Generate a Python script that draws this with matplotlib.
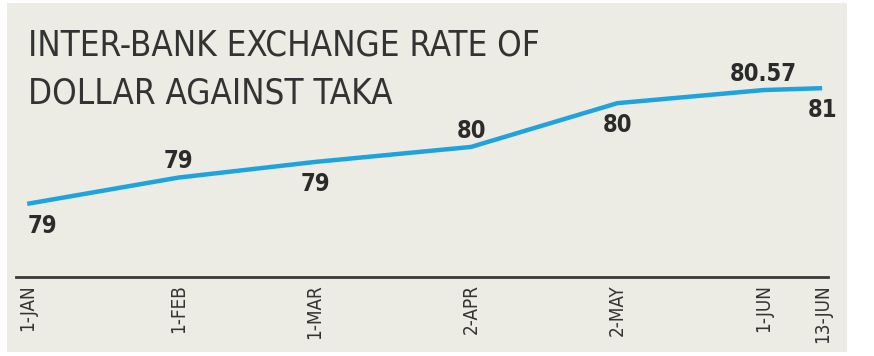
import matplotlib.pyplot as plt
from matplotlib.patches import Rectangle

# days since 1 Jan
days = [0, 31, 59, 91, 121, 151, 163]
rate = [78.75, 79.17, 79.42, 79.66, 80.36, 80.57, 80.60]
tick_labels = ['1-JAN', '1-FEB', '1-MAR', '2-APR', '2-MAY', '1-JUN', '13-JUN']
point_labels = ['79', '79', '79', '80', '80', '80.57', '81']
above = [False, True, False, True, False, True, False]

cond = ['DejaVu Sans']

fig = plt.figure(figsize=(8.74, 3.56), dpi=100)
fig.patch.set_facecolor('white')
fig.patches.append(Rectangle((7 / 874, 4 / 356), 840 / 874, 349 / 356,
                             transform=fig.transFigure, facecolor='#ecece5',
                             edgecolor='none', zorder=-5))

ax = fig.add_axes([16 / 874, 79 / 356, 812 / 874, 272 / 356])
ax.set_facecolor('none')
ax.plot(days, rate, color='#1fa3df', lw=3.2, solid_capstyle='butt', zorder=3)
ax.set_xlim(-2.3, 164.2)
ax.set_ylim(77.58, 81.93)

for d, r, lab, up in zip(days, rate, point_labels, above):
    dy = 3 if up else -7
    va = 'bottom' if up else 'top'
    ax.annotate(lab, (d, r), xytext=(0, dy), textcoords='offset points',
                ha='center' if d > 0 else 'left', va=va, fontsize=17,
                fontweight='bold', family=cond, fontstretch='condensed',
                color='#2b2b2b')

for s in ['top', 'right', 'left']:
    ax.spines[s].set_visible(False)
ax.spines['bottom'].set_color('#3a3a3a')
ax.spines['bottom'].set_linewidth(2)
ax.set_yticks([])
ax.set_xticks(days)
ax.set_xticklabels(tick_labels, rotation=90, fontsize=13.5, family=cond,
                   fontstretch='condensed', color='#333333', va='top')
ax.tick_params(axis='x', length=0, pad=5)

fig.text(28 / 874, 1 - 55 / 356, 'INTER-BANK EXCHANGE RATE OF', fontsize=25,
         family=cond, fontstretch='condensed', color='#333333', va='baseline')
fig.text(28 / 874, 1 - 103 / 356, 'DOLLAR AGAINST TAKA', fontsize=25,
         family=cond, fontstretch='condensed', color='#333333', va='baseline')

fig.savefig('out.png', dpi=100)
